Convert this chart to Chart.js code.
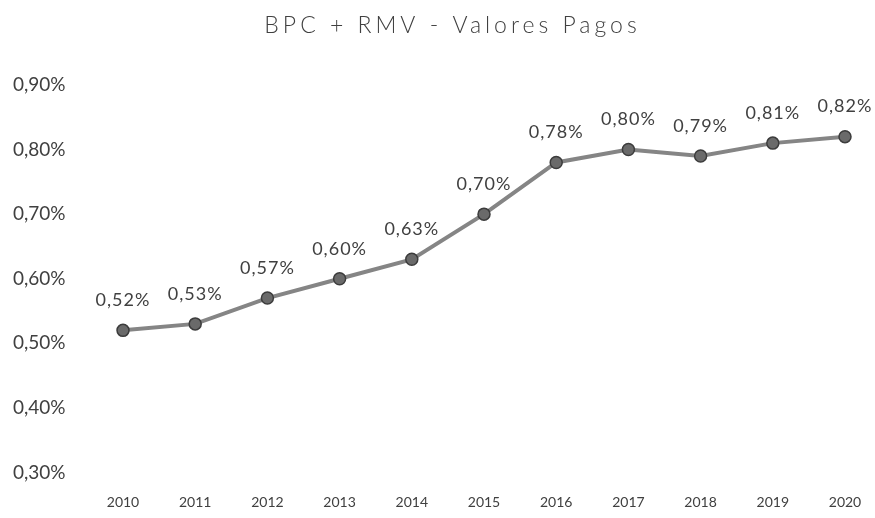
<!DOCTYPE html>
<html>
<head>
<meta charset="utf-8">
<script src="https://cdn.jsdelivr.net/npm/chart.js@4/dist/chart.umd.min.js"></script>
<style>
  html, body { margin: 0; padding: 0; background: #fff; }
  #wrap { width: 875px; height: 518px; }
</style>
</head>
<body>
<div id="wrap"><canvas id="bpc-chart"></canvas></div>
<script>
const titleText = "BPC + RMV - Valores Pagos"
const years = ["2010", "2011", "2012", "2013", "2014", "2015", "2016", "2017", "2018", "2019", "2020"]
const valoresPagos = [0.52, 0.53, 0.57, 0.60, 0.63, 0.70, 0.78, 0.80, 0.79, 0.81, 0.82]
const yTicks = [0.30, 0.40, 0.50, 0.60, 0.70, 0.80, 0.90]

const pct = v => v.toFixed(2).replace(".", ",") + "%"

// title drawn by hand so it can get the wide letter spacing of the original
const spacedTitle = {
    id: "spacedTitle",
    afterDraw(chart) {
        const ctx = chart.ctx
        ctx.save()
        ctx.font = "300 23px Lato"
        ctx.letterSpacing = "4px"
        ctx.fillStyle = "#404040"
        ctx.textAlign = "center"
        ctx.textBaseline = "alphabetic"
        ctx.fillText(titleText, chart.width / 2 + 15, 33)
        ctx.restore()
    }
}

// draws the value above every point
const pointLabels = {
    id: "pointLabels",
    afterDatasetsDraw(chart) {
        const ctx = chart.ctx
        const meta = chart.getDatasetMeta(0)
        ctx.save()
        ctx.font = "18px Lato"
        ctx.letterSpacing = "1px"
        ctx.fillStyle = "#404040"
        ctx.textAlign = "center"
        ctx.textBaseline = "middle"
        meta.data.forEach((pt, i) => {
            ctx.fillText(pct(valoresPagos[i]), pt.x, pt.y - 30)
        })
        ctx.restore()
    }
}

new Chart(document.getElementById("bpc-chart"), {
    type: "line",
    data: {
        labels: years,
        datasets: [{
            label: titleText,
            data: valoresPagos,
            borderColor: "#858585",
            borderWidth: 4,
            pointRadius: 6,
            pointBackgroundColor: "#6a6a6a",
            pointBorderColor: "#3c3c3c",
            pointBorderWidth: 1.5,
            tension: 0
        }]
    },
    options: {
        responsive: true,
        maintainAspectRatio: false,
        animation: false,
        layout: { padding: { left: 13, right: 30, top: 85, bottom: 2 } },
        plugins: {
            legend: { display: false },
            tooltip: { enabled: false },
            title: { display: false }
        },
        scales: {
            x: {
                offset: false,
                grid: { display: false, drawTicks: false },
                border: { display: false },
                ticks: {
                    color: "#404040",
                    font: { family: "Lato", size: 14 },
                    padding: 5,
                    maxRotation: 0,
                    // empty first line pushes the year down, away from the plot
                    callback: (v, i) => ["", years[i]]
                }
            },
            y: {
                min: 0.30,
                max: 0.90,
                afterBuildTicks: axis => { axis.ticks = yTicks.map(v => ({ value: v })) },
                afterFit: s => { s.width = 110 },
                grid: { display: false, drawTicks: false },
                border: { display: false },
                ticks: {
                    color: "#404040",
                    font: { family: "Lato", size: 19 },
                    padding: 5,
                    crossAlign: "far",
                    callback: v => pct(v)
                }
            }
        }
    },
    plugins: [pointLabels, spacedTitle]
})
</script>
</body>
</html>
